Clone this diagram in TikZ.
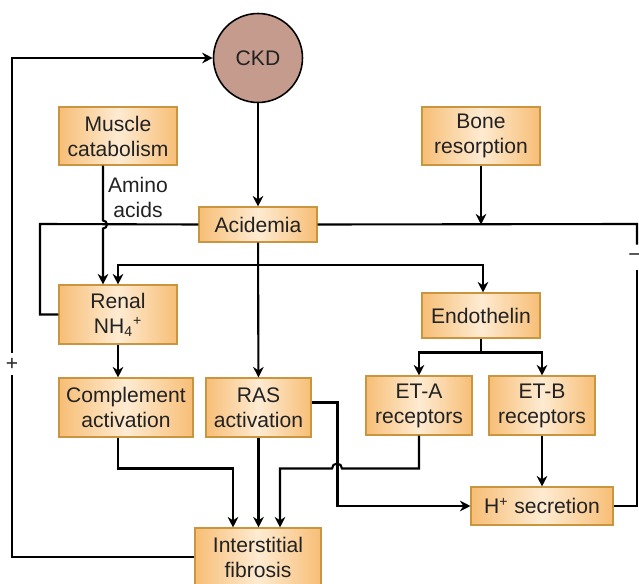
\documentclass[tikz,border=0pt]{standalone}
\usepackage{fontspec}
\setmainfont{Liberation Sans}
\usepackage{xcolor}
\usetikzlibrary{arrows.meta, positioning, calc}

\definecolor{boxedge}{HTML}{C9963F}
\definecolor{boxdark}{HTML}{F7BE76}
\definecolor{boxlight}{HTML}{FEEBD2}
\definecolor{ckdfill}{HTML}{C49B8D}
\definecolor{inktext}{HTML}{222222}

\begin{document}
\begin{tikzpicture}[
        x=0.02cm, y=-0.02cm,
        % Define styles for the nodes
        base_box/.style={rectangle, draw=boxedge, line width=0.6pt, left color=boxdark, right color=boxdark, middle color=boxlight, align=center, text=inktext, inner sep=0pt, font=\fontsize{12pt}{14.2pt}\selectfont},
        tall_box/.style={base_box, minimum height=1.18cm},
        flat_box/.style={base_box, minimum height=0.74cm},
        cause_node/.style={circle, draw=black, line width=0.9pt, fill=ckdfill, text=inktext, minimum size=1.78cm, font=\fontsize{12pt}{14.2pt}\selectfont},
        label_node/.style={align=center, text=inktext, inner sep=0pt, font=\fontsize{12pt}{14.2pt}\selectfont},
        % Styles for connectors
        link/.style={line width=1.2pt, black},
        arrow/.style={link, -{Stealth[length=6pt, width=6pt]}}
    ]
    \useasboundingbox (0,0) rectangle (639,584);

    % =========================================================================
    % TOP - CKD AND ITS SOURCES
    % =========================================================================
    \node (ckd) [cause_node] at (258,58) {CKD};

    \node (muscle_cat) [tall_box, minimum width=2.36cm, minimum height=1.16cm] at (118,136) {Muscle\\catabolism};
    \node (bone_res) [tall_box, minimum width=2.36cm, minimum height=1.16cm] at (481,136) {Bone\\resorption};

    \node (acidemia) [flat_box, minimum width=2.36cm, minimum height=0.70cm] at (258,224.5) {Acidemia};
    \draw [arrow] (ckd) -- (acidemia);

    \node (amino_lbl) [label_node] at (138,197) {Amino\\acids};

    % =========================================================================
    % MIDDLE - RENAL AND ENDOTHELIN BRANCHES
    % =========================================================================
    \node (renal_nh) [tall_box, minimum width=2.36cm] at (118,314.5) {Renal\\NH\textsubscript{4}\textsuperscript{+}};
    \node (endothelin) [flat_box, minimum width=2.36cm, minimum height=0.90cm] at (481,315.5) {Endothelin};

    \node (complement) [tall_box, minimum width=2.68cm] at (126,407.5) {Complement\\activation};
    \node (ras_act) [tall_box, minimum width=2.10cm] at (258.5,407.5) {RAS\\activation};
    \node (eta_rec) [tall_box, minimum width=2.12cm] at (419,405.5) {ET-A\\receptors};
    \node (etb_rec) [tall_box, minimum width=2.12cm] at (542,405.5) {ET-B\\receptors};

    \node (h_sec) [flat_box, minimum width=2.84cm, minimum height=0.76cm] at (542,506) {H\textsuperscript{+} secretion};

    % =========================================================================
    % BOTTOM - FIBROSIS AND FEEDBACK SIGNS
    % =========================================================================
    \node (fibrosis) [tall_box, minimum width=2.52cm, minimum height=1.16cm] at (258,557) {Interstitial\\fibrosis};

    \node (plus_sign) [label_node, minimum height=0.44cm] at (12,364) {+};
    \node (minus_sign) [label_node, minimum height=0.50cm] at (634.5,257.5) {−};

    \coordinate (left_rail) at (40,224);
    \coordinate (right_rail) at (637,224);
    \coordinate (split) at (258,265);
    \coordinate (endo_split) at ($(endothelin.south)+(0,14)$);

    % Amino acids into renal NH4, hopping over the acidemia line
    \draw [arrow] ($(muscle_cat.south)+(-15,0)$) -- ++(0,55)
        arc[start angle=90, end angle=-90, radius=0.08cm]
        -- ($(renal_nh.north)+(-15,0)$);

    % Acidemia outputs
    \draw [link] (acidemia.west) -- (left_rail) |- (renal_nh.west);
    \draw [arrow] (acidemia) -- (ras_act);
    \draw [arrow] (split) -| (renal_nh.north);
    \draw [arrow] (split) -| ($(endothelin.north)+(2,0)$);
    \draw [arrow] (bone_res.south) -- (bone_res.south |- acidemia.east);

    % Negative feedback from H+ secretion
    \draw [link] (acidemia.east) -- (right_rail) -- (right_rail |- minus_sign.north);
    \draw [link] (right_rail |- minus_sign.south) |- (h_sec.east);

    % Endothelin receptors
    \draw [link] (endothelin.south) -- (endo_split);
    \draw [arrow] (endo_split) -| (eta_rec.north);
    \draw [arrow] (endo_split) -| (etb_rec.north);
    \draw [arrow] (etb_rec) -- (h_sec);

    \draw [arrow] (renal_nh.south) -- (renal_nh.south |- complement.north);
    \draw [arrow] ($(ras_act.east)+(0,-5)$) -- ++(26,0) |- (h_sec.west);

    % Inputs to fibrosis
    \draw [arrow] ($(complement.south)+(-8,0)$) -- ++(0,31) -| ($(fibrosis.north)+(-25,0)$);
    \draw [arrow] (ras_act.south) -- (ras_act.south |- fibrosis.north);
    \draw [arrow] (eta_rec.south) -- ++(0,33) -- ++(-77,0)
        arc[start angle=0, end angle=180, radius=0.1cm]
        -- ++(-52,0) -- ($(fibrosis.north)+(22,0)$);

    % Positive feedback to CKD
    \draw [link] (fibrosis.west) -| (plus_sign.south);
    \draw [arrow] (plus_sign.north) |- (ckd.west);

\end{tikzpicture}
\end{document}
